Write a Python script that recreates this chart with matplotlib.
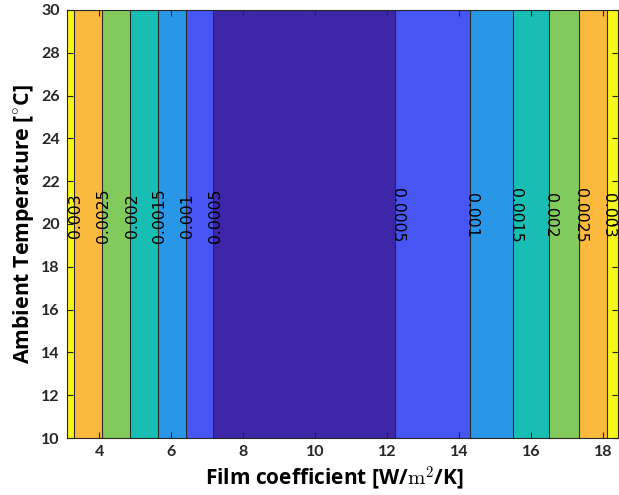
import matplotlib
matplotlib.use("Agg")
import matplotlib.pyplot as plt
import numpy as np

# profile of the contoured quantity along the film coefficient (independent of temperature)
film_coeff = [3.1, 3.30, 4.08, 4.86, 5.63, 6.40, 7.17, 9.7, 12.22, 14.30, 15.50, 16.48, 17.31, 18.09, 18.4]
value = [0.0031, 0.003, 0.0025, 0.002, 0.0015, 0.001, 0.0005, 0.0003,
         0.0005, 0.001, 0.0015, 0.002, 0.0025, 0.003, 0.00315]
ambient_temp = [10, 30]

levels = [0.0, 0.0005, 0.001, 0.0015, 0.002, 0.0025, 0.003, 0.0035]
band_colors = ["#3E26A8", "#4855F5", "#2897E8", "#18BEB4", "#82CA5B", "#FBB93D", "#F7F71C"]

# contour labels on the falling and rising sides
left_labels = [(3.30, "0.003"), (4.08, "0.0025"), (4.86, "0.002"), (5.63, "0.0015"),
               (6.40, "0.001"), (7.17, "0.0005")]
right_labels = [(12.22, "0.0005"), (14.30, "0.001"), (15.50, "0.0015"), (16.48, "0.002"),
                (17.31, "0.0025"), (18.09, "0.003")]
label_y = 20.4

plt.rcParams["mathtext.fontset"] = "cm"

fig = plt.figure(figsize=(6.19, 4.95), dpi=100)
ax = fig.add_axes([0.108, 0.115, 0.89, 0.865])

X, Y = np.meshgrid(film_coeff, ambient_temp)
Z = np.tile(value, (len(ambient_temp), 1))
ax.contourf(X, Y, Z, levels=levels, colors=band_colors)
ax.contour(X, Y, Z, levels=levels[1:-1], colors="#2a2a2a", linewidths=0.8)

for x, s in left_labels:
    ax.text(x + 0.05, label_y, s, rotation=90, ha="center", va="center", fontsize=11.3, color="black")
for x, s in right_labels:
    ax.text(x + 0.05, label_y, s, rotation=270, ha="center", va="center", fontsize=11.3, color="black")

ax.set_xlim(3.1, 18.4)
ax.set_ylim(10, 30)
ax.set_xticks(range(4, 19, 2))
ax.set_yticks(range(10, 31, 2))
ax.tick_params(direction="in", top=True, right=True, length=4, width=0.8,
               colors="#262626", labelsize=11.5, pad=5)
for lab in ax.get_xticklabels() + ax.get_yticklabels():
    lab.set_fontfamily("Lato")
    lab.set_fontweight("bold")
for sp in ax.spines.values():
    sp.set_color("#262626")
    sp.set_linewidth(0.8)

ax.set_xlabel(r"Film coefficient [W/$\mathrm{m}^2$/K]", fontsize=15, fontweight="bold",
              family="Open Sans")
ax.xaxis.set_label_coords(0.486, -0.062)
ax.set_ylabel(r"Ambient Temperature [$^{\circ}$C]", fontsize=15.3, fontweight="bold",
              family="Open Sans", labelpad=4)

fig.savefig("out.png", dpi=100)
